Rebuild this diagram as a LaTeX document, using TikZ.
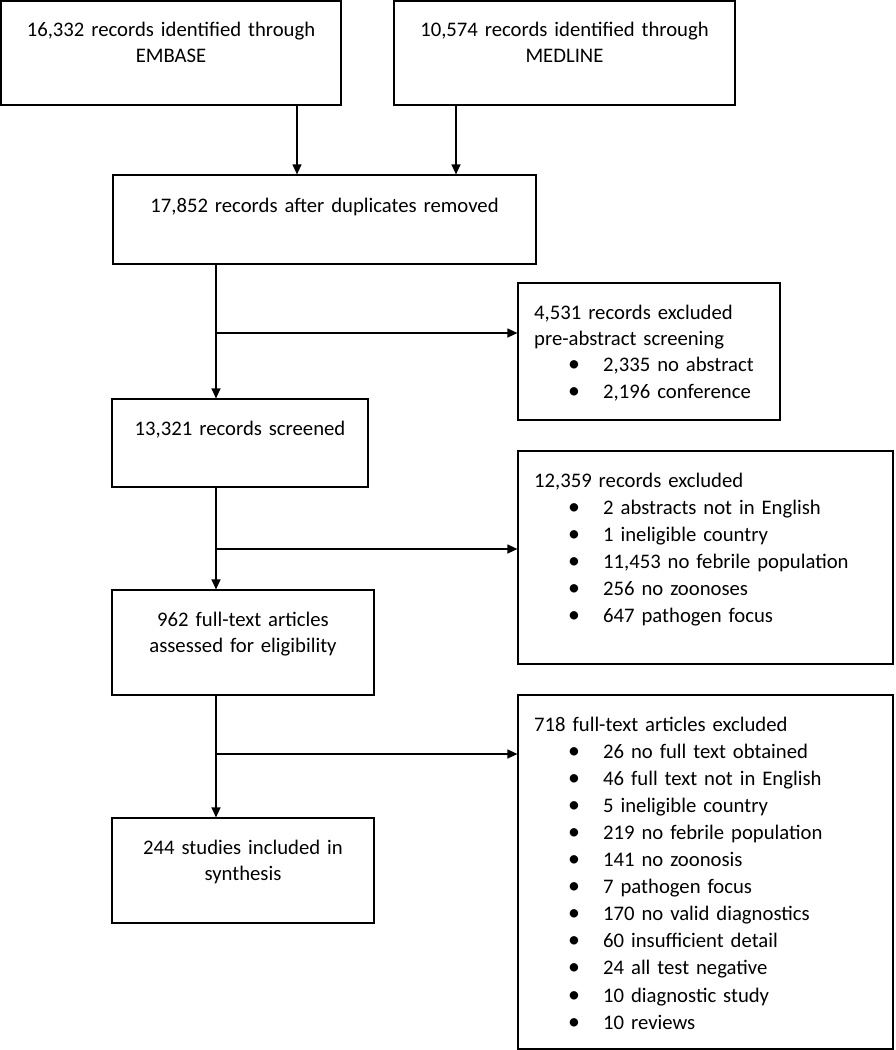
\documentclass[tikz,border=0pt]{standalone}
\usepackage{fontspec}
\setmainfont{Carlito}
\usetikzlibrary{arrows.meta}
\newcommand\mybul{\makebox[69pt][l]{\hspace*{34pt}\scalebox{1.15}{\textbullet}}}
\tikzset{
  box/.style={draw=black, line width=1.2pt, inner sep=0pt, anchor=center},
  ctxt/.style={inner sep=0pt, anchor=base, text width=330pt, align=center, font=\fontsize{20.7pt}{26pt}\selectfont},
  ltxt/.style={inner sep=0pt, anchor=base west, text width=350pt, align=left, font=\fontsize{20.7pt}{27.1pt}\selectfont},
  conn/.style={line width=1.2pt, draw=black},
  arr/.style={conn, -{Triangle[length=10pt,width=9pt]}}
}
\begin{document}
\begin{tikzpicture}[x=1pt,y=-1pt]
\useasboundingbox (0,0) rectangle (895,1050);
% boxes
\node[box, minimum width=340pt, minimum height=104pt] (emb) at (171,53) {};
\node[box, minimum width=341pt, minimum height=104pt] (med) at (564.5,53) {};
\node[box, minimum width=423pt, minimum height=89pt] (dup) at (324.5,219.5) {};
\node[box, minimum width=262pt, minimum height=137pt] (ex1) at (649,351.5) {};
\node[box, minimum width=256pt, minimum height=88pt] (scr) at (240,443) {};
\node[box, minimum width=375pt, minimum height=213pt] (ex2) at (705.5,557.5) {};
\node[box, minimum width=262pt, minimum height=105pt] (eli) at (243,642.5) {};
\node[box, minimum width=375pt, minimum height=354pt] (ex3) at (705.5,872) {};
\node[box, minimum width=262pt, minimum height=105pt] (syn) at (243,870.5) {};
% texts
\node[ctxt] (embt) at (171,36) {16,332 records identified through\\EMBASE};
\node[ctxt] (medt) at (564.5,36) {10,574 records identified through\\MEDLINE};
\node[ctxt, text width=420pt] (dupt) at (324.5,212) {17,852 records after duplicates removed};
\node[ctxt, text width=250pt] (scrt) at (240,435) {13,321 records screened};
\node[ctxt, text width=250pt] (elit) at (243,626) {962 full-text articles\\assessed for eligibility};
\node[ctxt, text width=250pt] (synt) at (243,854) {244 studies included in\\synthesis};
\node[ltxt, font=\fontsize{20.7pt}{26.4pt}\selectfont] (ex1t) at (534,319) {4,531 records excluded\\pre-abstract screening\\
\mybul 2,335 no abstract\\\mybul 2,196 conference};
\node[ltxt] (ex2t) at (534,487) {12,359 records excluded\\
\mybul 2 abstracts not in English\\
\mybul 1 ineligible country\\
\mybul 11,453 no febrile population\\
\mybul 256 no zoonoses\\
\mybul 647 pathogen focus};
\node[ltxt] (ex3t) at (534,731) {718 full-text articles excluded\\
\mybul 26 no full text obtained\\
\mybul 46 full text not in English\\
\mybul 5 ineligible country\\
\mybul 219 no febrile population\\
\mybul 141 no zoonosis\\
\mybul 7 pathogen focus\\
\mybul 170 no valid diagnostics\\
\mybul 60 insufficient detail\\
\mybul 24 all test negative\\
\mybul 10 diagnostic study\\
\mybul 10 reviews};
% connectors
\coordinate (a1) at (297,0);
\coordinate (a2) at (456,0);
\coordinate (b1) at (216,333);
\coordinate (b2) at (216,549);
\coordinate (b3) at (216,754);
\draw[arr] (emb.south -| a1) -- (dup.north -| a1);
\draw[arr] (med.south -| a2) -- (dup.north -| a2);
\draw[arr] (dup.south -| b1) -- (scr.north -| b1);
\draw[arr] (b1) -- (b1 -| ex1.west);
\draw[arr] (scr.south -| b2) -- (eli.north -| b2);
\draw[arr] (b2) -- (b2 -| ex2.west);
\draw[arr] (eli.south -| b3) -- (syn.north -| b3);
\draw[arr] (b3) -- (b3 -| ex3.west);
\end{tikzpicture}
\end{document}
